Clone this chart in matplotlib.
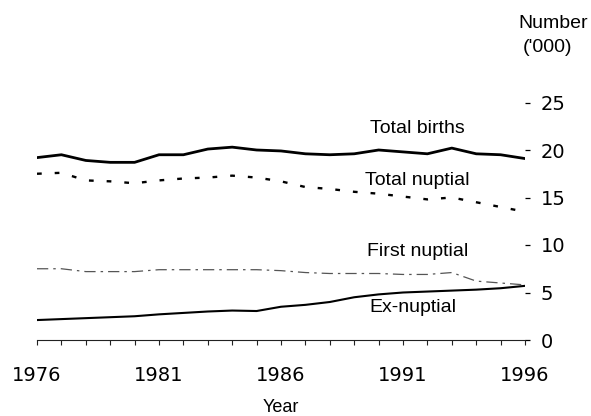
import numpy as np
import matplotlib
matplotlib.use("Agg")
import matplotlib.pyplot as plt
from matplotlib.ticker import MultipleLocator

# 数据（单位：千）
years = np.arange(1976, 1997)
total_births = [19.2, 19.5, 18.9, 18.7, 18.7, 19.5, 19.5, 20.1, 20.3, 20.0, 19.9,
                19.6, 19.5, 19.6, 20.0, 19.8, 19.6, 20.2, 19.6, 19.5, 19.1]
total_nuptial = [17.5, 17.6, 16.8, 16.7, 16.5, 16.8, 17.0, 17.1, 17.3, 17.1, 16.7,
                 16.1, 15.9, 15.6, 15.4, 15.1, 14.8, 15.0, 14.5, 14.0, 13.5]
first_nuptial = [7.5, 7.5, 7.2, 7.2, 7.2, 7.4, 7.4, 7.4, 7.4, 7.4, 7.3,
                 7.1, 7.0, 7.0, 7.0, 6.9, 6.9, 7.1, 6.2, 6.0, 5.8]
ex_nuptial = [2.1, 2.2, 2.3, 2.4, 2.5, 2.7, 2.85, 3.0, 3.1, 3.05, 3.5,
              3.7, 4.0, 4.5, 4.8, 5.0, 5.1, 5.2, 5.3, 5.45, 5.7]
year_ticks = [1976, 1981, 1986, 1991, 1996]
y_ticks = [0, 5, 10, 15, 20, 25]

W, H = 591, 416
fig = plt.figure(figsize=(W / 100, H / 100), dpi=100)
# 轴区域：1976 -> x=37px, 1996 -> x=525px；0 -> y=340px, 25 -> y=102.5px
ax = fig.add_axes([37 / W, (H - 340) / H, (525 - 37) / W, (340 - 102.5) / H])

ax.plot(years, total_births, color="black", lw=2.0, solid_joinstyle="round")
ax.plot(years, total_nuptial, color="black", lw=1.7, linestyle=(0, (2.0, 5.5)))
ax.plot(years, first_nuptial, color="#555555", lw=0.9, linestyle=(0, (9, 4, 2, 4)))
ax.plot(years, ex_nuptial, color="black", lw=1.5, solid_joinstyle="round")

ax.set_xlim(1976, 1996)
ax.set_ylim(0, 25)

for s in ["left", "top", "right"]:
    ax.spines[s].set_visible(False)
ax.spines["bottom"].set_linewidth(0.8)
ax.spines["bottom"].set_color("#222222")

tick_font = {"family": "DejaVu Sans", "size": 14}
ax.set_xticks(year_ticks)
ax.set_xticklabels([str(y) for y in year_ticks], fontdict=tick_font)
ax.xaxis.set_minor_locator(MultipleLocator(1))
ax.tick_params(axis="x", which="both", direction="out", length=3.5, width=0.8,
               color="#222222", pad=15)

ax.yaxis.tick_right()
ax.set_yticks(y_ticks)
ax.set_yticklabels([str(v) for v in y_ticks], fontdict=tick_font)
ax.tick_params(axis="y", direction="out", length=3.5, width=0.9, pad=8)

lab = {"family": "Liberation Sans", "size": 14, "ha": "center", "va": "center"}
ax.text(1991.6, 22.3, "Total births", **lab)
ax.text(1991.6, 16.8, "Total nuptial", **lab)
ax.text(1991.6, 9.3, "First nuptial", **lab)
ax.text(1991.4, 3.4, "Ex-nuptial", **lab)

fig.text(553 / W, 1 - 23 / H, "Number", family="Liberation Sans", size=14,
         ha="center", va="center")
fig.text(548 / W, 1 - 48 / H, "('000)", family="Liberation Sans", size=14,
         ha="center", va="center")
fig.text(281 / W, 1 - 408 / H, "Year", family="Liberation Sans", size=13,
         ha="center", va="center")

fig.savefig("out.png", dpi=100)
